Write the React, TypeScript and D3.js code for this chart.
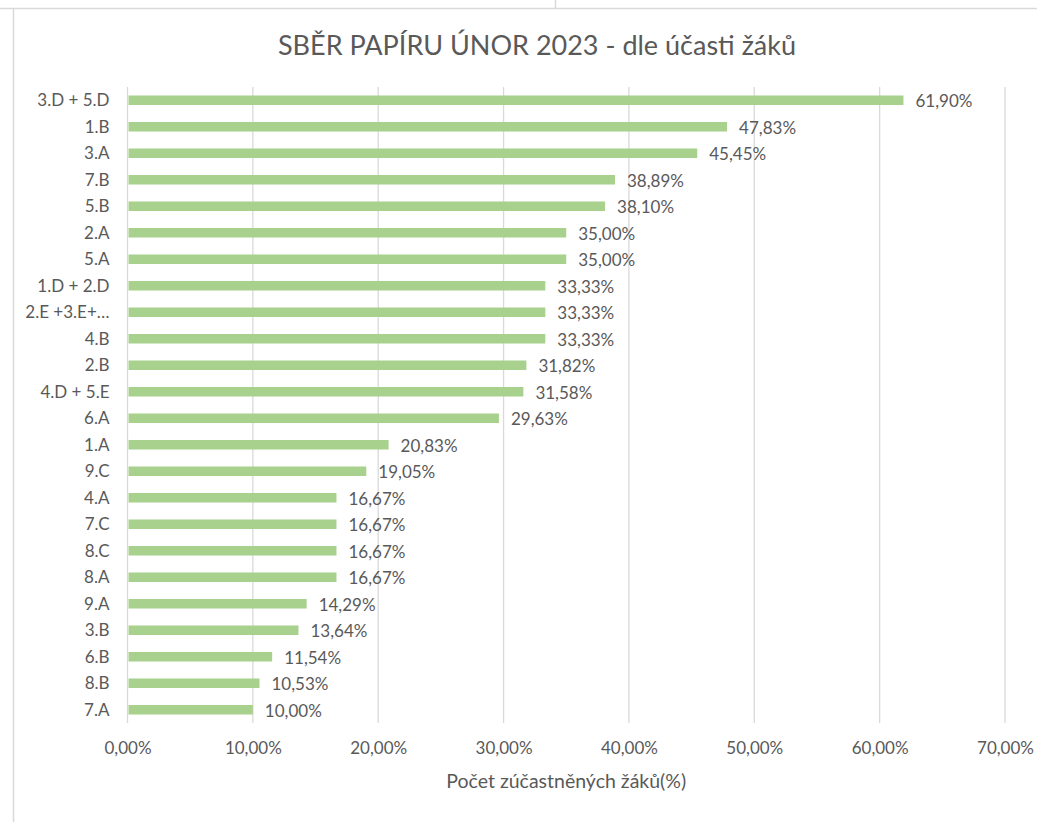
import { useEffect, useRef } from "react";
import * as d3 from "d3";

const classes = [
  "3.D + 5.D", "1.B", "3.A", "7.B", "5.B", "2.A", "5.A", "1.D + 2.D",
  "2.E +3.E+…", "4.B", "2.B", "4.D + 5.E", "6.A", "1.A", "9.C", "4.A",
  "7.C", "8.C", "8.A", "9.A", "3.B", "6.B", "8.B", "7.A",
];
const participation = [
  0.619, 0.4783, 0.4545, 0.3889, 0.381, 0.35, 0.35, 0.3333,
  0.3333, 0.3333, 0.3182, 0.3158, 0.2963, 0.2083, 0.1905, 0.1667,
  0.1667, 0.1667, 0.1667, 0.1429, 0.1364, 0.1154, 0.1053, 0.1,
];
const xTicks = [0, 0.1, 0.2, 0.3, 0.4, 0.5, 0.6, 0.7];

const title = "SBĚR PAPÍRU ÚNOR 2023 - dle účasti žáků";
const xTitle = "Počet zúčastněných žáků(%)";

const W = 1037;
const H = 822;
const FONT = "Lato, 'Open Sans', sans-serif";
const TEXT = "#595959";
const GRID = "#D9D9D9";
const BAR = "#A9D18E";
const LABEL_SIZE = 17;

const pct = (v: number) => (v * 100).toFixed(2).replace(".", ",") + "%";

function BarChart() {
  const ref = useRef<SVGSVGElement>(null);

  useEffect(() => {
    if (!ref.current) return;
    const svg = d3.select(ref.current);
    svg.selectAll("*").remove();

    const margin = { top: 87, left: 127.5, right: W - 1005, bottom: H - 723 };
    const chartWidth = W - margin.left - margin.right;
    const chartHeight = H - margin.top - margin.bottom;

    svg.append("rect").attr("width", W).attr("height", H).attr("fill", "#fff");

    // frame of the surrounding sheet
    svg.append("line").attr("x1", 0).attr("x2", W).attr("y1", 8.5).attr("y2", 8.5)
      .attr("stroke", GRID).attr("stroke-width", 1.5);
    svg.append("line").attr("x1", 555.5).attr("x2", 555.5).attr("y1", 0).attr("y2", 8)
      .attr("stroke", GRID).attr("stroke-width", 1.5);
    svg.append("line").attr("x1", 13.5).attr("x2", 13.5).attr("y1", 9).attr("y2", H)
      .attr("stroke", GRID).attr("stroke-width", 1.5);

    svg.append("text")
      .attr("x", 537)
      .attr("y", 45)
      .attr("dy", "0.36em")
      .attr("text-anchor", "middle")
      .attr("font-family", FONT)
      .attr("font-size", 27)
      .attr("fill", TEXT)
      .text(title);

    const g = svg.append("g").attr("transform", `translate(${margin.left},${margin.top})`);

    const x = d3.scaleLinear().domain([0, 0.7]).range([0, chartWidth]);
    const y = d3.scaleBand().domain(classes).range([0, chartHeight]).paddingInner(0.64).paddingOuter(0.32);

    // gridlines
    g.selectAll(".grid")
      .data(xTicks)
      .enter()
      .append("line")
      .attr("x1", (d) => x(d))
      .attr("x2", (d) => x(d))
      .attr("y1", 0)
      .attr("y2", chartHeight)
      .attr("stroke", GRID)
      .attr("stroke-width", 1.3);

    const rows = classes.map((c, i) => ({ c, v: participation[i] }));

    g.selectAll(".bar")
      .data(rows)
      .enter()
      .append("rect")
      .attr("x", x(0) + 1)
      .attr("y", (d) => y(d.c)!)
      .attr("width", (d) => x(d.v) - 1)
      .attr("height", y.bandwidth())
      .attr("fill", BAR);

    g.selectAll(".val")
      .data(rows)
      .enter()
      .append("text")
      .attr("x", (d) => x(d.v) + 12)
      .attr("y", (d) => y(d.c)! + y.bandwidth() / 2 + 1)
      .attr("dy", "0.36em")
      .attr("font-family", FONT)
      .attr("font-size", LABEL_SIZE)
      .attr("fill", TEXT)
      .text((d) => pct(d.v));

    g.selectAll(".cat")
      .data(rows)
      .enter()
      .append("text")
      .attr("x", -18)
      .attr("y", (d) => y(d.c)! + y.bandwidth() / 2)
      .attr("dy", "0.36em")
      .attr("text-anchor", "end")
      .attr("font-family", FONT)
      .attr("font-size", LABEL_SIZE)
      .attr("fill", TEXT)
      .text((d) => d.c);

    const xAxis = g.append("g")
      .attr("transform", `translate(0,${chartHeight})`)
      .call(d3.axisBottom(x).tickValues(xTicks).tickFormat((d) => pct(+d)).tickSize(0).tickPadding(19));
    xAxis.select(".domain").remove();
    xAxis.selectAll("text")
      .attr("font-family", FONT)
      .attr("font-size", LABEL_SIZE)
      .attr("fill", TEXT);

    svg.append("text")
      .attr("x", margin.left + chartWidth / 2)
      .attr("y", 781)
      .attr("dy", "0.36em")
      .attr("text-anchor", "middle")
      .attr("font-family", FONT)
      .attr("font-size", 19.5)
      .attr("fill", TEXT)
      .text(xTitle);
  }, []);

  return <svg ref={ref} width={W} height={H} style={{ display: "block" }} />;
}

export default function App() {
  return (
    <div style={{ position: "absolute", left: 0, top: 0 }}>
      <BarChart />
    </div>
  );
}
